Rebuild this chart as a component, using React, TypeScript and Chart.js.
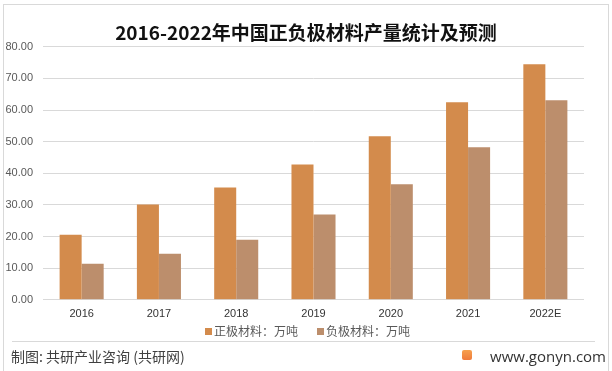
import React, { useEffect, useRef } from "react";
import { Chart, registerables } from "chart.js";

Chart.register(...registerables);

const categories = ["2016", "2017", "2018", "2019", "2020", "2021", "2022E"];
const cathodeValues = [20.6, 30.1, 35.5, 42.8, 51.7, 62.5, 74.5];
const anodeValues = [11.4, 14.6, 19.0, 27.0, 36.5, 48.2, 63.1];
const seriesNames = ["正极材料：万吨", "负极材料：万吨"];
const seriesColors = ["#D38B4C", "#BC8E6C"];
const titleText = "2016-2022年中国正负极材料产量统计及预测";
const sourceText = "制图: 共研产业咨询 (共研网)";
const siteText = "www.gonyn.com";

const CJK = "'Noto Sans CJK SC', 'Noto Sans', sans-serif";
const LAT = "'Liberation Sans', 'Noto Sans CJK SC', sans-serif";

export default function App() {
  const canvasRef = useRef<HTMLCanvasElement | null>(null);

  useEffect(() => {
    if (!canvasRef.current) return;
    const chart = new Chart(canvasRef.current, {
      type: "bar",
      data: {
        labels: categories,
        datasets: [
          {
            label: seriesNames[0],
            data: cathodeValues,
            backgroundColor: seriesColors[0],
            categoryPercentage: 0.57,
            barPercentage: 1,
          },
          {
            label: seriesNames[1],
            data: anodeValues,
            backgroundColor: seriesColors[1],
            categoryPercentage: 0.57,
            barPercentage: 1,
          },
        ],
      },
      options: {
        responsive: false,
        animation: false,
        layout: { padding: { left: 0, right: 0, top: 0, bottom: 42 } },
        plugins: {
          legend: { display: false },
          tooltip: { enabled: false },
          title: {
            display: true,
            text: titleText,
            color: "#111111",
            font: { family: CJK, size: 19, weight: "bold", lineHeight: 1.2 },
            padding: { top: 21, bottom: 3 },
          },
        },
        scales: {
          x: {
            grid: { display: false, drawTicks: false },
            border: { display: false },
            ticks: {
              color: "#333333",
              font: { family: LAT, size: 11, lineHeight: 1.2 },
              padding: 8,
            },
          },
          y: {
            min: 0,
            max: 80,
            grid: { color: "#d9d9d9", lineWidth: 1, drawTicks: false },
            border: { display: false },
            ticks: {
              stepSize: 10,
              color: "#595959",
              padding: 10,
              font: { family: LAT, size: 11 },
              callback: (v: any) => Number(v).toFixed(2),
            },
            afterFit: (s: any) => {
              s.width = 43;
            },
          },
          yRight: {
            position: "right",
            display: true,
            grid: { display: false, drawTicks: false },
            border: { display: false },
            ticks: { display: false },
            afterFit: (s: any) => {
              s.width = 28;
            },
          },
        },
      },
    });
    return () => chart.destroy();
  }, []);

  const legendItem = (i: number) => (
    <div style={{ display: "flex", alignItems: "center", marginRight: i === 0 ? 19 : 0 }}>
      <div style={{ width: 7, height: 7, background: seriesColors[i], marginRight: 2 }} />
      <span style={{ fontSize: 12, color: "#595959", fontFamily: CJK, lineHeight: "14px" }}>
        {seriesNames[i]}
      </span>
    </div>
  );

  return (
    <div
      style={{
        position: "fixed",
        left: 0,
        top: 0,
        width: 612,
        height: 371,
        background: "#ffffff",
        overflow: "hidden",
      }}
    >
      <div
        style={{
          position: "absolute",
          left: 3,
          top: 4,
          width: 606,
          height: 380,
          border: "1px solid #d9d9d9",
          boxSizing: "border-box",
        }}
      />
      <canvas
        ref={canvasRef}
        width={612}
        height={371}
        style={{ position: "absolute", left: 0, top: 0, width: 612, height: 371 }}
      />
      <div
        style={{
          position: "absolute",
          left: 205,
          top: 324,
          display: "flex",
          alignItems: "center",
        }}
      >
        {legendItem(0)}
        {legendItem(1)}
      </div>
      <div
        style={{
          position: "absolute",
          left: 12,
          top: 341,
          width: 583,
          height: 1,
          background: "#d9d9d9",
        }}
      />
      <div
        style={{
          position: "absolute",
          left: 11,
          top: 347,
          fontFamily: CJK,
          fontSize: 14,
          lineHeight: "18px",
          color: "#404040",
          whiteSpace: "nowrap",
        }}
      >
        {sourceText}
      </div>
      <div
        style={{
          position: "absolute",
          left: 462,
          top: 350,
          width: 10,
          height: 10,
          borderRadius: 2,
          background: "linear-gradient(180deg, #F6A04D 0%, #EF7B3B 100%)",
        }}
      />
      <div
        style={{
          position: "absolute",
          right: 6,
          top: 346,
          fontFamily: "'Open Sans', 'Liberation Sans', sans-serif",
          fontSize: 15,
          lineHeight: "20px",
          color: "#333333",
          whiteSpace: "nowrap",
        }}
      >
        {siteText}
      </div>
    </div>
  );
}
